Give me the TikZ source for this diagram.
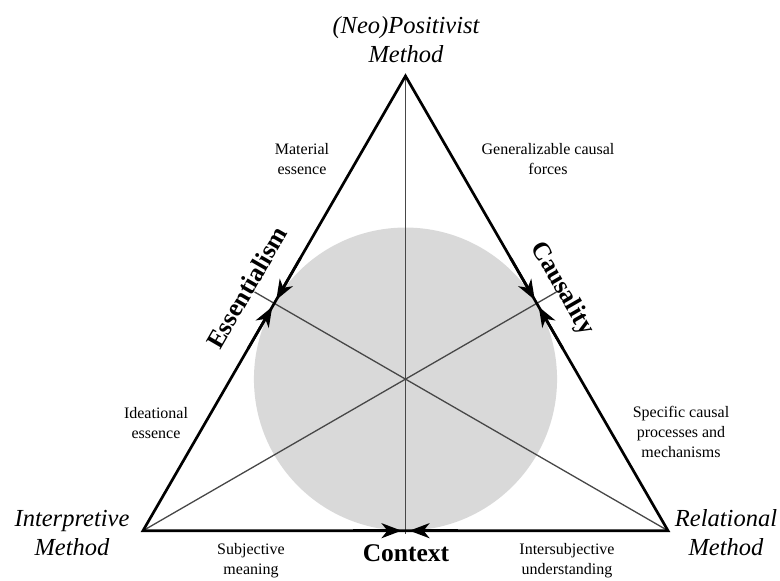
\documentclass[tikz,border=0pt]{standalone}
\usepackage{fontspec}
\setmainfont{Liberation Serif}
\usetikzlibrary{calc,arrows.meta}
\begin{document}
\begin{tikzpicture}[x=1pt,y=1pt,
  side/.style={line width=2.7pt, line join=miter},
  headarrow/.style={line width=2.7pt, -{Stealth[length=20pt,width=15pt,inset=6pt]}, shorten >=4pt},
  median/.style={line width=1.3pt, black!72},
  corner/.style={font=\fontsize{24.5}{29}\selectfont\itshape, align=center, inner sep=0pt},
  small/.style={font=\fontsize{16}{20}\selectfont, align=center, inner sep=0pt},
  axislabel/.style={font=\fontsize{25.5}{29}\selectfont\bfseries, inner sep=0pt}
]
\useasboundingbox (0,0) rectangle (780,581);
\coordinate (A) at (405.5,505);
\coordinate (L) at (143,50.3);
\coordinate (R) at (668,50.3);
\coordinate (O) at (405.5,201.9);
\coordinate (mL) at ($(A)!0.5!(L)$);
\coordinate (mR) at ($(A)!0.5!(R)$);
\coordinate (mB) at ($(L)!0.5!(R)$);
\coordinate (eB) at ($(A)!1.007!(mB)$);
\coordinate (eL) at ($(R)!1.05!(mL)$);
\coordinate (eR) at ($(L)!1.05!(mR)$);
% incircle
\fill[black!15] (O) circle (151.55);
% medians
\draw[median] (A) -- (eB);
\draw[median] (R) -- (eL);
\draw[median] (L) -- (eR);
% triangle
\draw[side] (A) -- (L) -- (R) -- cycle;
% arrows toward midpoints
\draw[headarrow] ($(A)!0.8!(mL)$) -- (mL);
\draw[headarrow] ($(L)!0.8!(mL)$) -- (mL);
\draw[headarrow] ($(A)!0.8!(mR)$) -- (mR);
\draw[headarrow] ($(R)!0.8!(mR)$) -- (mR);
\draw[headarrow] ($(L)!0.8!(mB)$) -- (mB);
\draw[headarrow] ($(R)!0.8!(mB)$) -- (mB);
% corner labels
\node[corner] (pos) at (406,541.3) {(Neo)Positivist\\Method};
\node[corner] (int) at (72,48.3) {Interpretive\\Method};
\node[corner] (rel) at (726,48.3) {Relational\\Method};
% axis labels
\node[axislabel, anchor=base] (ctx) at (406,19) {Context};
\node[axislabel, anchor=base, rotate=60] (ess) at ($(mL)+(150:23)$) {Essentialism};
\node[axislabel, anchor=base, rotate=-60] (cau) at ($(mR)+(30:23)$) {Causality};
% small labels
\node[small] (mat) at (302,422) {Material\\essence};
\node[small] (gen) at (548,422) {Generalizable causal\\forces};
\node[small] (ide) at (156,158) {Ideational\\essence};
\node[small] (spe) at (681,149) {Specific causal\\processes and\\mechanisms};
\node[small] (sub) at (251,20.5) {Subjective\\meaning};
\node[small] (ints) at (567,20.5) {Intersubjective\\understanding};
\end{tikzpicture}
\end{document}
